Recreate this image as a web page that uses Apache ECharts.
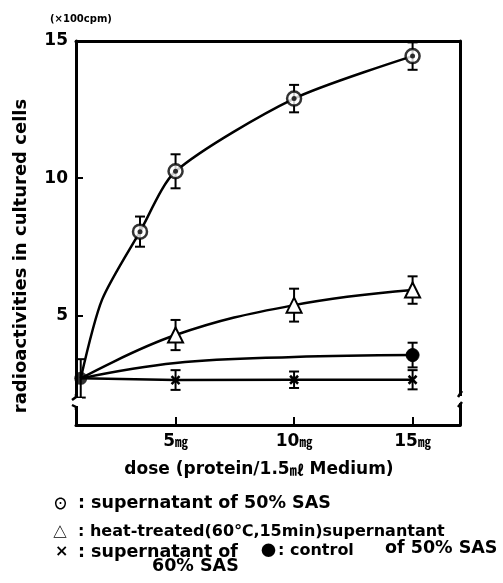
<!DOCTYPE html>
<html><head><meta charset="utf-8">
<script src="https://cdn.jsdelivr.net/npm/echarts@6/dist/echarts.min.js"></script>
<style>html,body{margin:0;padding:0;background:#fff}#c{width:503px;height:583px}</style>
</head><body><div id="c"></div>
<script>
// ---- data ----
const xTicks = [5, 10, 15];
const yTicks = [5, 10, 15];
// shared starting point (control at lowest dose)
const startDose = 1, startVal = 2.7, startErr = 0.7;
// supernatant of 50% SAS (circled dot): measured points
const circleDose = [3.5, 5, 10, 15];
const circleVal  = [8.05, 10.25, 12.9, 14.45];
const circleErr  = [0.55, 0.62, 0.5, 0.5];
// its fitted curve
const circleCurveDose = [1, 1.9, 3.5, 5, 10, 15];
const circleCurveVal  = [2.7, 5.57, 8.05, 10.25, 12.9, 14.45];
// heat-treated supernatant (triangle)
const triDose = [5, 10, 15];
const triVal  = [4.28, 5.37, 5.92];
const triErr  = [0.55, 0.6, 0.5];
// control (filled dot); null err = point on fitted curve only
const ctrlDose = [5, 10, 15];
const ctrlVal  = [3.26, 3.48, 3.55];
const ctrlErr  = [null, null, 0.45];
// supernatant of 60% SAS (cross)
const crossDose = [5, 10, 15];
const crossVal  = [2.64, 2.65, 2.65];
const crossErr  = [0.36, 0.3, 0.35];

const F = 'DejaVu Sans';
const CJK = 'Noto Sans CJK JP';
function lineData(doses, vals, errs, sym) {
  const d = [{value: [startDose, startVal], symbol: 'none'}];
  doses.forEach((x, i) => d.push({value: [x, vals[i]], symbol: errs[i] === null ? 'none' : sym}));
  return d;
}
const errData = [[startDose, startVal - startErr, startVal + startErr]];
[[circleDose, circleVal, circleErr], [triDose, triVal, triErr], [ctrlDose, ctrlVal, ctrlErr], [crossDose, crossVal, crossErr]]
  .forEach(([ds, vs, es]) => ds.forEach((x, i) => { if (es[i] !== null) errData.push([x, vs[i] - es[i], vs[i] + es[i]]); }));

const chart = echarts.init(document.getElementById('c'));
const axisLine = {show: true, lineStyle: {color: '#000', width: 3}};
const txt = (x, y, text, size, extra) => ({type: 'text', x: x, y: y, style: Object.assign({text: text, fontFamily: F, fontWeight: 'bold', fontSize: size, fill: '#000', verticalAlign: 'middle'}, extra || {})});
chart.setOption({
  animation: false,
  backgroundColor: '#fff',
  grid: {left: 76, right: 43, top: 41, bottom: 158},
  xAxis: [{
    type: 'value', min: 0.8, max: 17,
    axisLine: axisLine, splitLine: {show: false},
    axisTick: {inside: true, length: 8, lineStyle: {color: '#000', width: 2}, customValues: xTicks},
    axisLabel: {customValues: xTicks, margin: 8, formatter: v => '{n|' + v + '}{u|㎎}',
      rich: {n: {fontFamily: F, fontWeight: 'bold', fontSize: 17, color: '#000'},
             u: {fontFamily: CJK, fontWeight: 'bold', fontSize: 13, color: '#000'}}},
    name: '{a|dose (protein/1.5}{u|㎖}{a| Medium)}', nameLocation: 'middle', nameGap: 36,
    nameTextStyle: {padding: [0, 18, 0, 0], rich: {a: {fontFamily: F, fontWeight: 'bold', fontSize: 17, color: '#000'},
                           u: {fontFamily: CJK, fontWeight: 'bold', fontSize: 14, color: '#000'}}}
  }, {
    type: 'value', position: 'top', min: 0.8, max: 17, axisLine: axisLine,
    axisTick: {show: false}, axisLabel: {show: false}, splitLine: {show: false}
  }],
  yAxis: [{
    type: 'value', min: 1, max: 15,
    axisLine: axisLine, splitLine: {show: false},
    axisTick: {inside: true, length: 7, lineStyle: {color: '#000', width: 2}, customValues: yTicks},
    axisLabel: {customValues: yTicks, margin: 8, fontFamily: F, fontWeight: 'bold', fontSize: 17, color: '#000'}
  }, {
    type: 'value', position: 'right', min: 1, max: 15, axisLine: axisLine,
    axisTick: {show: false}, axisLabel: {show: false}, splitLine: {show: false}
  }],
  series: [
    {type: 'custom', z: 1, data: errData, renderItem: (p, api) => {
      const x = api.value(0), lo = api.coord([x, api.value(1)]), hi = api.coord([x, api.value(2)]);
      const st = {stroke: '#000', lineWidth: 2};
      return {type: 'group', children: [
        {type: 'line', shape: {x1: lo[0], y1: lo[1], x2: hi[0], y2: hi[1]}, style: st},
        {type: 'line', shape: {x1: lo[0] - 5, y1: lo[1], x2: lo[0] + 5, y2: lo[1]}, style: st},
        {type: 'line', shape: {x1: hi[0] - 5, y1: hi[1], x2: hi[0] + 5, y2: hi[1]}, style: st}]};
    }},
    {type: 'line', z: 2, smooth: 0.25, showSymbol: false, data: circleCurveDose.map((x, i) => [x, circleCurveVal[i]]),
      lineStyle: {color: '#000', width: 2.5}},
    {type: 'scatter', z: 3, data: circleDose.map((x, i) => [x, circleVal[i]]),
      symbol: 'circle', symbolSize: 14, itemStyle: {color: '#fff', borderColor: '#000', borderWidth: 2.5}},
    {type: 'scatter', z: 4, data: circleDose.map((x, i) => [x, circleVal[i]]),
      symbol: 'circle', symbolSize: 5, itemStyle: {color: '#000'}},
    {type: 'line', z: 3, smooth: 0.4, data: lineData(triDose, triVal, triErr, 'triangle'),
      symbolSize: 15, lineStyle: {color: '#000', width: 2.5},
      itemStyle: {color: '#fff', borderColor: '#000', borderWidth: 2}},
    {type: 'line', z: 3, smooth: 0.4, data: lineData(ctrlDose, ctrlVal, ctrlErr, 'circle'),
      symbolSize: 13, lineStyle: {color: '#000', width: 2.5},
      itemStyle: {color: '#000', borderColor: '#000', borderWidth: 1}},
    {type: 'line', z: 3, data: lineData(crossDose, crossVal, crossErr, 'path://M0,0L10,10M10,0L0,10'),
      symbolSize: 8, lineStyle: {color: '#000', width: 2.5},
      itemStyle: {color: '#000', borderColor: '#000', borderWidth: 2.5}},
    {type: 'scatter', z: 5, data: [[startDose, startVal]], symbol: 'circle', symbolSize: 13, itemStyle: {color: '#000'}}
  ],
  graphic: [
    txt(50, 19, '(×100cpm)', 10),
    {type: 'text', x: 21, y: 256, rotation: Math.PI / 2,
      style: {text: 'radioactivities in cultured cells', fontFamily: F, fontWeight: 'bold', fontSize: 18, fill: '#000', align: 'center', verticalAlign: 'middle'}},
    // axis breaks
    {type: 'rect', z: 100, shape: {x: 70, y: 398, width: 12, height: 8}, style: {fill: '#fff'}},
    {type: 'polyline', z: 101, shape: {points: [[76, 394], [76, 397], [72, 400]]}, style: {stroke: '#000', lineWidth: 2.5, fill: null}},
    {type: 'polyline', z: 101, shape: {points: [[72, 405], [76, 407], [76, 410]]}, style: {stroke: '#000', lineWidth: 2.5, fill: null}},
    {type: 'rect', z: 100, shape: {x: 454, y: 396, width: 12, height: 7}, style: {fill: '#fff'}},
    {type: 'line', z: 101, shape: {x1: 462, y1: 391, x2: 458, y2: 397}, style: {stroke: '#000', lineWidth: 2.5}},
    {type: 'line', z: 101, shape: {x1: 462, y1: 402, x2: 458, y2: 407}, style: {stroke: '#000', lineWidth: 2.5}},
    // legend text
    txt(53, 503, '⊙', 15, {fontFamily: CJK}),
    txt(78, 503, ': supernatant of 50% SAS', 17.5),
    txt(53, 532, '△', 14, {fontFamily: CJK}),
    txt(78, 532, ': heat-treated(60℃,15min)supernantant', 16),
    txt(55, 552, '×', 16),
    txt(78, 552, ': supernatant of', 17.5),
    txt(152, 566, '60% SAS', 17.5),
    txt(261, 550, '●', 15, {fontFamily: CJK}),
    txt(278, 551, ': control', 16),
    txt(385, 548, 'of 50% SAS', 17.5)
  ]
});
</script></body></html>
